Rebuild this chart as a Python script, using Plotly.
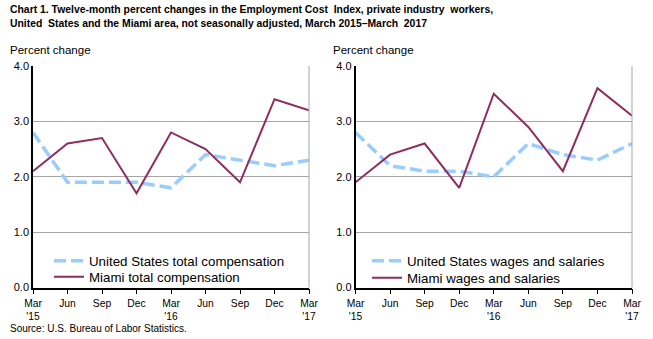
import plotly.graph_objects as go

quarters = ["Mar<br>'15", "Jun", "Sep", "Dec", "Mar<br>'16", "Jun", "Sep", "Dec", "Mar<br>'17"]
x_idx = list(range(len(quarters)))

us_total_comp = [2.8, 1.9, 1.9, 1.9, 1.8, 2.4, 2.3, 2.2, 2.3]
miami_total_comp = [2.1, 2.6, 2.7, 1.7, 2.8, 2.5, 1.9, 3.4, 3.2]
us_wages = [2.8, 2.2, 2.1, 2.1, 2.0, 2.6, 2.4, 2.3, 2.6]
miami_wages = [1.9, 2.4, 2.6, 1.8, 3.5, 2.9, 2.1, 3.6, 3.1]

y_ticks = [0, 1, 2, 3, 4]
y_ticktext = ["0.0", "1.0", "2.0", "3.0", "4.0"]

US_COLOR = "#99CCFF"
MIAMI_COLOR = "#8E2E5F"
FONT = "Liberation Sans, Arial, sans-serif"
US_DASH = "12px,5px"

W, H = 653, 339


def px_x(p):
    return p / W


def px_y(p):
    return 1 - p / H


fig = go.Figure()
fig.add_trace(go.Scatter(x=x_idx, y=us_total_comp, mode="lines", name="United States total compensation",
                         line=dict(color=US_COLOR, width=3.5, dash=US_DASH), xaxis="x", yaxis="y", legend="legend"))
fig.add_trace(go.Scatter(x=x_idx, y=miami_total_comp, mode="lines", name="Miami total compensation",
                         line=dict(color=MIAMI_COLOR, width=2), xaxis="x", yaxis="y", legend="legend2"))
fig.add_trace(go.Scatter(x=x_idx, y=us_wages, mode="lines", name="United States wages and salaries",
                         line=dict(color=US_COLOR, width=3.5, dash=US_DASH), xaxis="x2", yaxis="y2", legend="legend3"))
fig.add_trace(go.Scatter(x=x_idx, y=miami_wages, mode="lines", name="Miami wages and salaries",
                         line=dict(color=MIAMI_COLOR, width=2), xaxis="x2", yaxis="y2", legend="legend4"))

ydom = [px_y(287.5), px_y(66)]

xaxis_common = dict(range=[0, 8], tickvals=x_idx, ticktext=quarters, showgrid=False, zeroline=False,
                    showline=True, linecolor="black", linewidth=1.5, ticks="outside", ticklen=5,
                    tickcolor="black", tickfont=dict(family=FONT, size=10.3, color="black"),
                    fixedrange=True, automargin=False)
yaxis_common = dict(range=[0, 4], tickvals=y_ticks, ticktext=y_ticktext, showgrid=True, gridcolor="#A6A6A6",
                    gridwidth=1, zeroline=False, showline=True, linecolor="black", linewidth=1.5, ticks="",
                    tickfont=dict(family=FONT, size=11, color="black"), domain=ydom, fixedrange=True,
                    automargin=False)

legend_common = dict(font=dict(family=FONT, size=13.3, color="black"), bgcolor="rgba(0,0,0,0)",
                     tracegroupgap=0, itemwidth=30, xanchor="left", yanchor="middle",
                     xref="paper", yref="paper", visible=True)

fig.update_layout(
    width=W, height=H,
    showlegend=True,
    margin=dict(l=0, r=0, t=0, b=0),
    paper_bgcolor="white", plot_bgcolor="white",
    xaxis=dict(domain=[px_x(33), px_x(309)], anchor="y", **xaxis_common),
    yaxis=dict(anchor="x", **yaxis_common),
    xaxis2=dict(domain=[px_x(355.5), px_x(632)], anchor="y2", **xaxis_common),
    yaxis2=dict(anchor="x2", **yaxis_common),
    legend=dict(x=px_x(49), y=px_y(261), **legend_common),
    legend2=dict(x=px_x(49), y=px_y(277), **legend_common),
    legend3=dict(x=px_x(367), y=px_y(261), **legend_common),
    legend4=dict(x=px_x(367), y=px_y(278), **legend_common),
    annotations=[
        dict(text="<b>Chart 1. Twelve-month percent changes in the Employment Cost  Index, private industry  workers,<br>United  States and the Miami area, not seasonally adjusted, March 2015–March  2017</b>",
             x=px_x(8), y=px_y(16), xref="paper", yref="paper", xanchor="left", yanchor="middle",
             showarrow=False, align="left", font=dict(family=FONT, size=10.4, color="black")),
        dict(text="Percent change", x=px_x(8), y=px_y(50), xref="paper", yref="paper", xanchor="left", yanchor="middle",
             showarrow=False, font=dict(family=FONT, size=11.5, color="black")),
        dict(text="Percent change", x=px_x(331), y=px_y(50), xref="paper", yref="paper", xanchor="left", yanchor="middle",
             showarrow=False, font=dict(family=FONT, size=11.5, color="black")),
        dict(text="Source: U.S. Bureau of Labor Statistics.", x=px_x(8), y=px_y(328), xref="paper", yref="paper",
             xanchor="left", yanchor="middle", showarrow=False, font=dict(family=FONT, size=10, color="black")),
    ],
    shapes=[
        dict(type="line", xref="x domain", yref="y domain", x0=1, x1=1, y0=0, y1=1, line=dict(color="#A6A6A6", width=1)),
        dict(type="line", xref="x2 domain", yref="y2 domain", x0=1, x1=1, y0=0, y1=1, line=dict(color="#A6A6A6", width=1)),
    ],
)

fig.write_html("out.html")
